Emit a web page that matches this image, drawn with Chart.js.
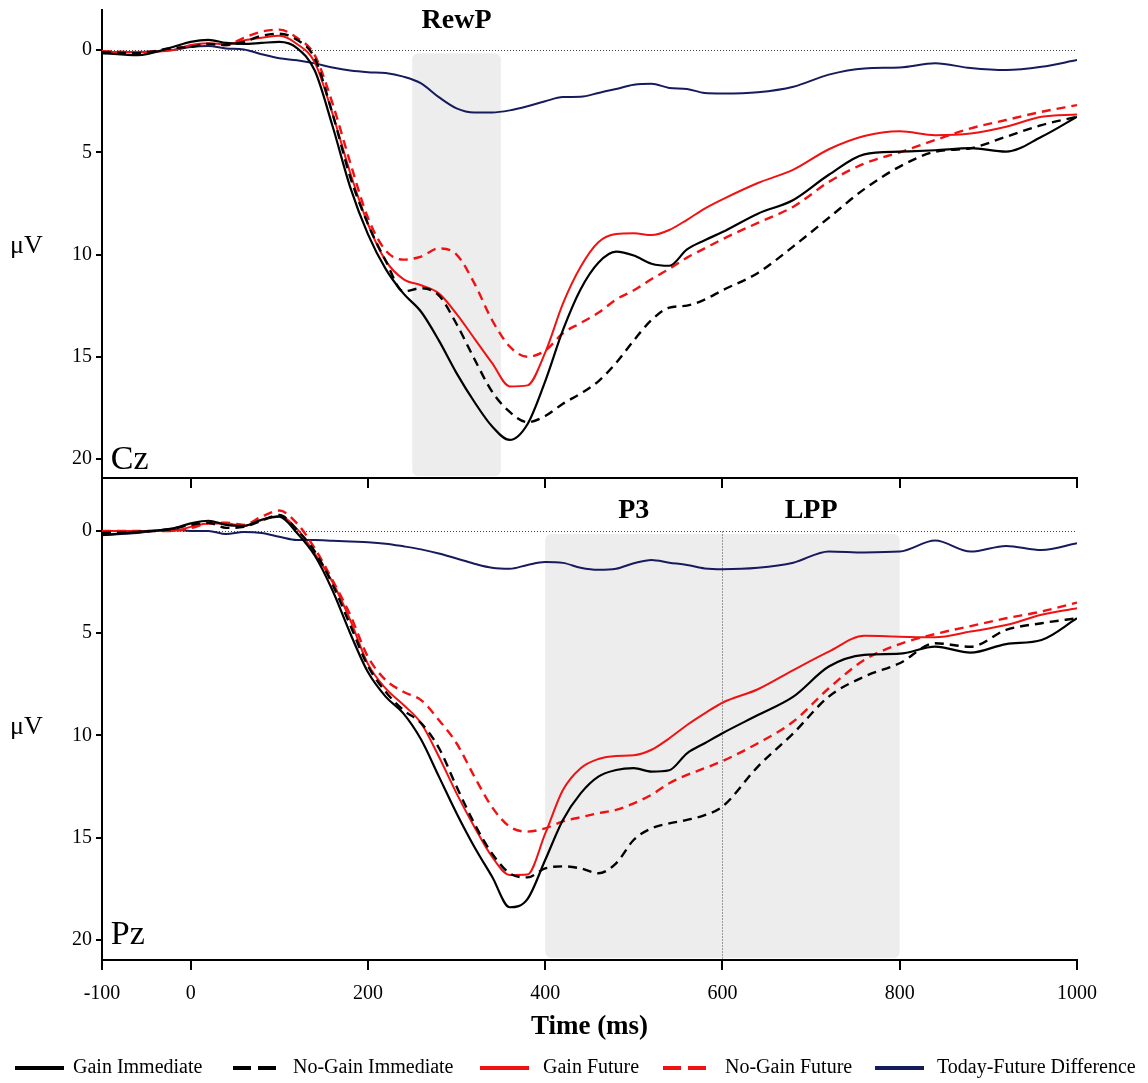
<!DOCTYPE html>
<html>
<head>
<meta charset="utf-8">
<script src="https://cdn.jsdelivr.net/npm/chart.js@4.4.1/dist/chart.umd.min.js"></script>
<style>
  body { margin: 0; background: #fff; }
  #wrap { position: relative; width: 1148px; height: 1083px; }
  #wrap canvas { position: absolute; left: 0; }
</style>
</head>
<body>
<div id="wrap">
  <canvas id="cz" width="1148" height="492" style="top:0px"></canvas>
  <canvas id="pz" width="1148" height="613" style="top:470px"></canvas>
</div>
<script>
// time points (ms) shared by every waveform
const times = [-100, -60, -20, 0, 20, 40, 60, 80, 100, 120, 140, 160, 180, 200, 220, 240, 260, 280, 300, 320,
  340, 360, 380, 400, 420, 440, 460, 480, 500, 520, 540, 560, 580, 600, 640, 680, 720, 760, 800, 840, 880, 920, 960, 1000];

// Cz waveforms (uV, plotted positive-down)
const czGainImmediate = [0.15, 0.25, -0.15, -0.4, -0.5, -0.35, -0.3, -0.35, -0.4, -0.1, 1.0, 3.7, 6.7, 9.0, 10.7, 11.9, 12.8, 14.2, 15.8, 17.2,
  18.4, 19.07, 18.3, 16.2, 13.7, 11.7, 10.4, 9.86, 10.05, 10.45, 10.55, 9.75, 9.3, 8.9, 8.0, 7.33, 6.1, 5.1, 4.97, 4.9, 4.8, 4.97, 4.24, 3.26];
const czNoGainImmediate = [0.1, 0.15, -0.1, -0.15, -0.3, -0.25, -0.4, -0.7, -0.8, -0.5, 0.4, 3.1, 6.2, 8.5, 10.3, 11.8, 11.65, 12.0, 13.4, 15.1,
  16.7, 17.7, 18.2, 17.9, 17.3, 16.8, 16.2, 15.3, 14.2, 13.2, 12.6, 12.5, 12.2, 11.75, 10.9, 9.6, 8.2, 6.8, 5.7, 4.97, 4.8, 4.24, 3.67, 3.26];
const czGainFuture = [0.1, 0.1, 0.0, -0.25, -0.33, -0.28, -0.47, -0.6, -0.7, -0.3, 0.6, 3.1, 6.0, 8.5, 10.3, 11.2, 11.5, 11.9, 12.9, 14.1,
  15.3, 16.45, 16.4, 14.8, 12.4, 10.6, 9.4, 9.0, 8.96, 9.05, 8.8, 8.3, 7.75, 7.3, 6.5, 5.85, 4.85, 4.2, 3.97, 4.16, 4.08, 3.75, 3.26, 3.15];
const czNoGainFuture = [0.05, 0.1, -0.05, -0.2, -0.3, -0.25, -0.6, -0.9, -1.0, -0.6, 0.25, 2.6, 5.5, 8.2, 9.8, 10.25, 10.1, 9.7, 10.0, 11.4,
  13.2, 14.5, 15.0, 14.7, 13.85, 13.35, 12.85, 12.2, 11.75, 11.2, 10.7, 10.15, 9.7, 9.25, 8.45, 7.66, 6.45, 5.55, 5.0, 4.4, 3.83, 3.42, 3.02, 2.69];
const czDifference = [0.15, 0.1, 0.0, -0.15, -0.2, -0.08, -0.03, 0.2, 0.4, 0.5, 0.65, 0.85, 1.0, 1.08, 1.12, 1.3, 1.63, 2.3, 2.85, 3.05,
  3.05, 2.95, 2.75, 2.5, 2.3, 2.28, 2.1, 1.9, 1.7, 1.65, 1.85, 1.9, 2.1, 2.12, 2.06, 1.79, 1.2, 0.9, 0.85, 0.65, 0.88, 0.98, 0.82, 0.49];

// Pz waveforms
const pzGainImmediate = [0.2, 0.05, -0.13, -0.37, -0.5, -0.3, -0.25, -0.55, -0.7, 0.1, 1.2, 2.9, 5.0, 6.9, 8.1, 8.92, 10.2, 12.0, 13.8, 15.44,
  16.9, 18.4, 18.0, 16.09, 14.13, 12.83, 12.01, 11.69, 11.6, 11.77, 11.7, 10.87, 10.38, 9.89, 9.0, 8.1, 6.63, 6.06, 6.0, 5.66, 5.95, 5.53, 5.33, 4.27];
const pzNoGainImmediate = [0.1, 0.05, -0.1, -0.3, -0.4, -0.15, -0.2, -0.5, -0.78, -0.05, 1.0, 2.6, 4.6, 6.6, 7.86, 8.76, 9.4, 10.6, 12.5, 14.3,
  15.77, 16.74, 16.94, 16.5, 16.4, 16.5, 16.74, 16.25, 15.1, 14.54, 14.3, 14.13, 13.9, 13.48, 11.52, 9.89, 8.1, 7.12, 6.47, 5.49, 5.66, 4.84, 4.51, 4.27];
const pzGainFuture = [0.0, 0.0, 0.0, -0.2, -0.37, -0.37, -0.25, -0.54, -0.73, -0.1, 1.1, 2.5, 4.35, 6.5, 7.7, 8.5, 9.4, 11.03, 12.83, 14.46,
  15.93, 16.82, 16.8, 14.8, 12.67, 11.6, 11.15, 11.0, 10.97, 10.7, 10.14, 9.49, 8.92, 8.4, 7.74, 6.8, 5.9, 5.13, 5.17, 5.2, 4.92, 4.6, 4.1, 3.78];
const pzNoGainFuture = [0.0, 0.0, 0.0, -0.14, -0.37, -0.4, -0.3, -0.7, -1.0, -0.37, 0.85, 2.4, 4.1, 6.15, 7.29, 7.86, 8.27, 9.24, 10.38, 12.0,
  13.5, 14.46, 14.7, 14.54, 14.2, 14.0, 13.8, 13.64, 13.32, 12.9, 12.34, 11.93, 11.6, 11.25, 10.38, 9.32, 7.69, 6.31, 5.53, 5.04, 4.65, 4.27, 3.94, 3.5];
const pzDifference = [0.2, 0.1, -0.08, 0.0, 0.0, 0.15, 0.05, 0.1, 0.28, 0.44, 0.44, 0.48, 0.52, 0.55, 0.62, 0.75, 0.9, 1.1, 1.35, 1.6,
  1.8, 1.85, 1.66, 1.52, 1.56, 1.8, 1.9, 1.85, 1.58, 1.42, 1.55, 1.66, 1.83, 1.87, 1.8, 1.55, 1.0, 1.05, 1.01, 0.47, 1.01, 0.73, 0.93, 0.6];

const seriesNames = ['Gain Immediate', 'No-Gain Immediate', 'Gain Future', 'No-Gain Future', 'Today-Future Difference'];
const xTicks = [-100, 0, 200, 400, 600, 800, 1000];
const yTicks = [0, 5, 10, 15, 20];

// component windows (ms)
const rewpWindow = [250, 350];
const p3Window = [400, 600];
const lppWindow = [600, 800];

// styling
const seriesColors = ['#000000', '#000000', '#f01212', '#f01212', '#161b5c'];
const seriesDash = [[], [9, 6], [], [9, 6], []];
const seriesWidth = [2.2, 2.4, 2, 2.4, 2];
const serif = "'Liberation Serif', 'Times New Roman', serif";
Chart.defaults.font.family = serif;
Chart.defaults.color = '#000';

const makeDatasets = (series) => series.map((values, i) => ({
  label: seriesNames[i],
  data: times.map((t, k) => ({ x: t, y: values[k] })),
  borderColor: seriesColors[i],
  borderDash: seriesDash[i],
  borderWidth: seriesWidth[i],
  pointRadius: 0,
  cubicInterpolationMode: 'monotone',
  fill: false
}));

// shaded windows, zero line, divider and the in-plot labels
const panelDecor = {
  id: 'panelDecor',
  beforeDatasetsDraw(chart, args, opts) {
    const { ctx, chartArea: area, scales: { x, y } } = chart;
    ctx.save();
    ctx.fillStyle = '#ededed';
    opts.windows.forEach(([from, to]) => {
      const left = x.getPixelForValue(from);
      const right = x.getPixelForValue(to);
      const top = y.getPixelForValue(0.15);
      ctx.beginPath();
      if (ctx.roundRect) ctx.roundRect(left, top, right - left, area.bottom - top - 2, 6);
      else ctx.rect(left, top, right - left, area.bottom - top - 2);
      ctx.fill();
    });
    const y0 = Math.round(y.getPixelForValue(0)) + 0.5;
    ctx.strokeStyle = '#444';
    ctx.lineWidth = 1;
    ctx.setLineDash([1, 2]);
    ctx.beginPath();
    ctx.moveTo(area.left, y0);
    ctx.lineTo(area.right, y0);
    ctx.stroke();
    if (opts.divider != null) {
      const xd = Math.round(x.getPixelForValue(opts.divider)) + 0.5;
      ctx.beginPath();
      ctx.moveTo(xd, y0);
      ctx.lineTo(xd, area.bottom);
      ctx.stroke();
    }
    ctx.restore();
  },
  afterDraw(chart, args, opts) {
    const { ctx, scales: { x, y } } = chart;
    ctx.save();
    ctx.fillStyle = '#000';
    ctx.textBaseline = 'middle';
    ctx.textAlign = 'center';
    ctx.font = 'bold 28px ' + serif;
    opts.labels.forEach(l => ctx.fillText(l.text, x.getPixelForValue(l.t), y.getPixelForValue(opts.labelValue)));
    ctx.textAlign = 'left';
    ctx.font = '26px ' + serif;
    ctx.fillText('\u03bcV', 10, y.getPixelForValue(9.6));
    ctx.textBaseline = 'alphabetic';
    ctx.font = '34px ' + serif;
    ctx.fillText(opts.site, x.getPixelForValue(-90), y.getPixelForValue(opts.siteValue));
    ctx.restore();
  }
};

const legendX = [15, 233, 480, 663, 875];
const legendTextX = [73, 293, 543, 725, 937];
const bottomLegend = {
  id: 'bottomLegend',
  afterDraw(chart) {
    const ctx = chart.ctx;
    const ly = 598;
    ctx.save();
    ctx.font = '20px ' + serif;
    ctx.textBaseline = 'middle';
    seriesNames.forEach((name, i) => {
      const dashed = seriesDash[i].length > 0;
      ctx.strokeStyle = seriesColors[i];
      ctx.lineWidth = 4;
      ctx.setLineDash(dashed ? [18, 7] : []);
      ctx.beginPath();
      ctx.moveTo(legendX[i], ly);
      ctx.lineTo(legendX[i] + (dashed ? 43 : 49), ly);
      ctx.stroke();
      ctx.fillStyle = '#000';
      ctx.fillText(name, legendTextX[i], ly);
    });
    ctx.restore();
  }
};

const makeScales = (o) => ({
  x: {
    type: 'linear', min: -100, max: 1000,
    afterBuildTicks: s => { s.ticks = xTicks.map(v => ({ value: v })); },
    afterFit: s => { s.height = o.xHeight; s.paddingLeft = 0; s.paddingRight = 0; },
    border: { display: true, color: '#000', width: 2 },
    grid: { drawOnChartArea: false, drawTicks: true, tickLength: 10, color: '#000', lineWidth: 2 },
    ticks: { display: o.bottom, color: '#000', font: { size: 20 }, padding: 12, maxRotation: 0, callback: v => String(v) },
    title: { display: o.bottom, text: 'Time (ms)', color: '#000', font: { size: 27, weight: 'bold' }, padding: { top: 0, bottom: 40 } }
  },
  y: {
    type: 'linear', reverse: true, min: o.yMin, max: o.yMax,
    afterBuildTicks: s => { s.ticks = yTicks.map(v => ({ value: v })); },
    afterFit: s => { s.width = 102; s.paddingTop = 0; s.paddingBottom = 0; },
    border: { display: true, color: '#000', width: 2 },
    grid: { drawOnChartArea: false, drawTicks: true, tickLength: 6, color: '#000', lineWidth: 2 },
    ticks: { color: '#000', font: { size: 20 }, padding: 4, callback: v => String(v) }
  }
});

new Chart(document.getElementById('cz'), {
  type: 'line',
  data: { datasets: makeDatasets([czGainImmediate, czNoGainImmediate, czGainFuture, czNoGainFuture, czDifference]) },
  options: {
    responsive: false, animation: false,
    layout: { padding: { left: 0, right: 71, top: 10, bottom: 0 } },
    scales: makeScales({ xHeight: 14, bottom: false, yMin: -1.96, yMax: 20.93 }),
    plugins: {
      legend: { display: false }, tooltip: { enabled: false },
      panelDecor: { windows: [rewpWindow], divider: null, labels: [{ text: 'RewP', t: 300 }], labelValue: -1.45, site: 'Cz', siteValue: 20.5 }
    }
  },
  plugins: [panelDecor]
});

new Chart(document.getElementById('pz'), {
  type: 'line',
  data: { datasets: makeDatasets([pzGainImmediate, pzNoGainImmediate, pzGainFuture, pzNoGainFuture, pzDifference]) },
  options: {
    responsive: false, animation: false,
    layout: { padding: { left: 0, right: 71, top: 8, bottom: 0 } },
    scales: makeScales({ xHeight: 123, bottom: true, yMin: -2.59, yMax: 20.98 }),
    plugins: {
      legend: { display: false }, tooltip: { enabled: false },
      panelDecor: { windows: [[p3Window[0], lppWindow[1]]], divider: p3Window[1], labels: [{ text: 'P3', t: 500 }, { text: 'LPP', t: 700 }], labelValue: -1.0, site: 'Pz', siteValue: 20.2 }
    }
  },
  plugins: [panelDecor, bottomLegend]
});
</script>
</body>
</html>
